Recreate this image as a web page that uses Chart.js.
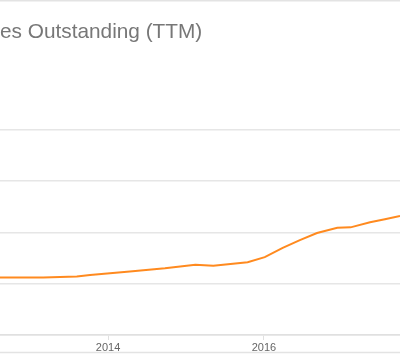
<!DOCTYPE html>
<html>
<head>
<meta charset="utf-8">
<script src="https://cdn.jsdelivr.net/npm/chart.js@4.4.1/dist/chart.umd.min.js"></script>
<style>
  html, body { margin: 0; padding: 0; background: #fff; }
  #wrap { position: relative; width: 400px; height: 354px; }
</style>
</head>
<body>
<div id="wrap"><canvas id="c" width="400" height="354"></canvas></div>
<script>
// Title text (left part cut off in the reference)
const titleText = "es Outstanding (TTM)";
// Quarter positions in fractional years
const years = [2012.615, 2013.17, 2013.6, 2013.77, 2014.28, 2014.73, 2015.12, 2015.35, 2015.79, 2016.01, 2016.24, 2016.46, 2016.68, 2016.94, 2017.11, 2017.36, 2017.55, 2017.744];
// Shares outstanding (relative units)
const shares = [1.12, 1.12, 1.14, 1.17, 1.24, 1.30, 1.37, 1.35, 1.42, 1.52, 1.70, 1.85, 1.99, 2.09, 2.10, 2.20, 2.26, 2.32];
// Year tick labels
const tickYears = [2014, 2016];

const points = years.map((x, i) => ({ x: x, y: shares[i] }));

const framePlugin = {
  id: 'frame',
  afterDraw(chart) {
    const ctx = chart.ctx;
    ctx.save();
    ctx.strokeStyle = '#e3e3e3';
    ctx.lineWidth = 1.5;
    ctx.beginPath();
    ctx.moveTo(0, 0.75); ctx.lineTo(400, 0.75);
    ctx.moveTo(0, 352.5); ctx.lineTo(400, 352.5);
    ctx.stroke();
    ctx.restore();
  }
};

new Chart(document.getElementById('c'), {
  type: 'line',
  data: {
    datasets: [{
      data: points,
      borderColor: '#ff8a1f',
      borderWidth: 2,
      pointRadius: 0,
      tension: 0,
      fill: false
    }]
  },
  options: {
    responsive: false,
    animation: false,
    layout: { padding: 0 },
    plugins: {
      legend: { display: false },
      tooltip: { enabled: false },
      title: {
        display: true,
        text: titleText,
        align: 'start',
        color: '#777777',
        font: { family: '"Liberation Sans", Arial, sans-serif', size: 20.8, weight: 'normal', lineHeight: 1.2 },
        padding: { top: 19.5, bottom: 85.5 }
      }
    },
    scales: {
      x: {
        type: 'linear',
        min: 2012.615,
        max: 2017.744,
        afterBuildTicks(scale) {
          scale.ticks = tickYears.map(v => ({ value: v }));
        },
        afterFit(scale) { scale.height = 19; },
        ticks: {
          color: '#666666',
          font: { family: '"Liberation Sans", Arial, sans-serif', size: 11 },
          padding: 1,
          maxRotation: 0,
          callback: v => String(v)
        },
        grid: {
          display: true,
          drawOnChartArea: false,
          drawTicks: true,
          tickLength: 5,
          color: '#e0e0e0',
          lineWidth: 1
        },
        border: { display: true, color: '#e0e0e0', width: 1.5 }
      },
      y: {
        min: 0,
        max: 4,
        afterFit(scale) { scale.width = 0; },
        ticks: { display: false, stepSize: 1 },
        grid: { color: '#e6e6e6', lineWidth: 1.5, drawTicks: false },
        border: { display: false }
      }
    }
  },
  plugins: [framePlugin]
});
</script>
</body>
</html>
